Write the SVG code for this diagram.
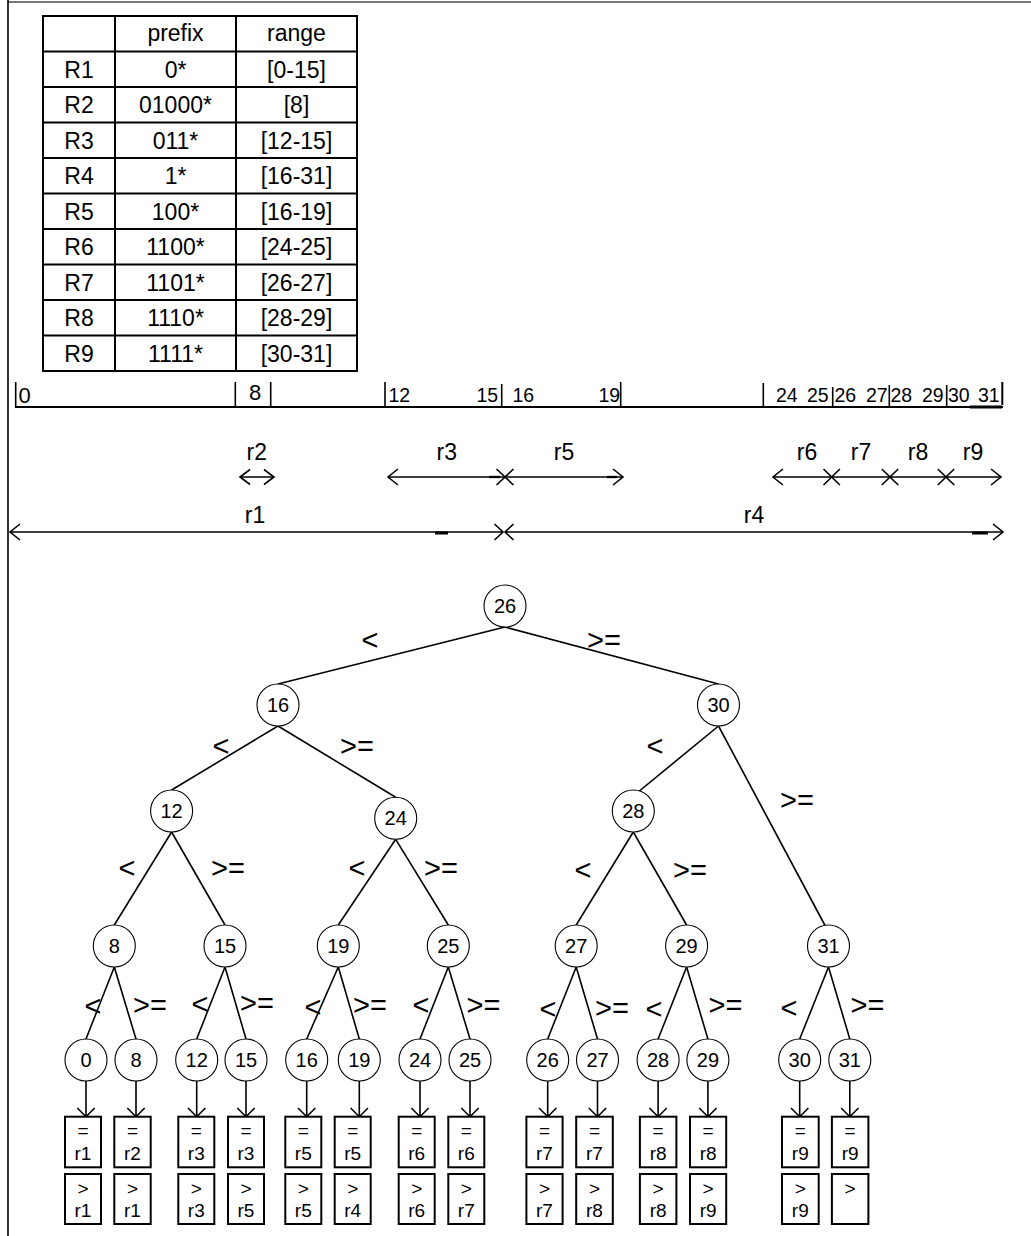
<svg xmlns="http://www.w3.org/2000/svg" width="1031" height="1236" viewBox="0 0 1031 1236">
<style>
.t{font-family:"Liberation Sans",Arial,Helvetica,sans-serif;fill:#000;text-anchor:middle}
.tb{font-size:23px}
.ax{font-size:19.5px;text-anchor:start}
.axb{font-size:22px;text-anchor:start}
.rl{font-size:23px}
.nl{font-size:20px}
.op{font-size:29px}
.bx{font-size:19px}
.ln{stroke:#000;stroke-width:1.6;fill:none}
.th{stroke:#000;stroke-width:2;fill:none}
.hd{stroke:#000;stroke-width:1.6;fill:none;stroke-linejoin:miter}
.nd{stroke:#000;stroke-width:1.1;fill:#fff}
.box{stroke:#000;stroke-width:2;fill:#fff}
</style>
<rect x="0" y="0" width="1031" height="1236" fill="#fff"/>
<g id="frame">
<line x1="8" y1="2" x2="1031" y2="2" stroke="#777" stroke-width="2"/>
<line x1="8" y1="0" x2="8" y2="1236" stroke="#000" stroke-width="1.6"/>
</g>
<g id="table">
<rect x="43" y="16" width="314" height="355" class="th"/>
<line x1="115" y1="16" x2="115" y2="371" class="th"/>
<line x1="236" y1="16" x2="236" y2="371" class="th"/>
<line x1="43" y1="51.5" x2="357" y2="51.5" class="th"/>
<line x1="43" y1="87" x2="357" y2="87" class="th"/>
<line x1="43" y1="122.5" x2="357" y2="122.5" class="th"/>
<line x1="43" y1="158" x2="357" y2="158" class="th"/>
<line x1="43" y1="193.5" x2="357" y2="193.5" class="th"/>
<line x1="43" y1="229" x2="357" y2="229" class="th"/>
<line x1="43" y1="264.5" x2="357" y2="264.5" class="th"/>
<line x1="43" y1="300" x2="357" y2="300" class="th"/>
<line x1="43" y1="335.5" x2="357" y2="335.5" class="th"/>
<text class="t tb" x="175.5" y="41">prefix</text>
<text class="t tb" x="296.5" y="41">range</text>
<text class="t tb" x="79" y="77.7">R1</text><text class="t tb" x="175.5" y="77.7">0*</text><text class="t tb" x="296.5" y="77.7">[0-15]</text>
<text class="t tb" x="79" y="113.2">R2</text><text class="t tb" x="175.5" y="113.2">01000*</text><text class="t tb" x="296.5" y="113.2">[8]</text>
<text class="t tb" x="79" y="148.7">R3</text><text class="t tb" x="175.5" y="148.7">011*</text><text class="t tb" x="296.5" y="148.7">[12-15]</text>
<text class="t tb" x="79" y="184.2">R4</text><text class="t tb" x="175.5" y="184.2">1*</text><text class="t tb" x="296.5" y="184.2">[16-31]</text>
<text class="t tb" x="79" y="219.7">R5</text><text class="t tb" x="175.5" y="219.7">100*</text><text class="t tb" x="296.5" y="219.7">[16-19]</text>
<text class="t tb" x="79" y="255.2">R6</text><text class="t tb" x="175.5" y="255.2">1100*</text><text class="t tb" x="296.5" y="255.2">[24-25]</text>
<text class="t tb" x="79" y="290.7">R7</text><text class="t tb" x="175.5" y="290.7">1101*</text><text class="t tb" x="296.5" y="290.7">[26-27]</text>
<text class="t tb" x="79" y="326.2">R8</text><text class="t tb" x="175.5" y="326.2">1110*</text><text class="t tb" x="296.5" y="326.2">[28-29]</text>
<text class="t tb" x="79" y="361.7">R9</text><text class="t tb" x="175.5" y="361.7">1111*</text><text class="t tb" x="296.5" y="361.7">[30-31]</text>
</g>
<g id="axis">
<line x1="15" y1="407" x2="1003" y2="407" class="th"/>
<line x1="970" y1="407" x2="1002" y2="407" stroke="#000" stroke-width="3"/>
<line x1="15.7" y1="382" x2="15.7" y2="407" class="ln"/>
<line x1="235.3" y1="382" x2="235.3" y2="407" class="ln"/>
<line x1="270.7" y1="382" x2="270.7" y2="407" class="ln"/>
<line x1="385" y1="382" x2="385" y2="407" class="ln"/>
<line x1="501.7" y1="384" x2="501.7" y2="407" class="ln"/>
<line x1="620.7" y1="382" x2="620.7" y2="407" class="ln"/>
<line x1="763.3" y1="383" x2="763.3" y2="407" class="ln"/>
<line x1="832.7" y1="387" x2="832.7" y2="407" class="ln"/>
<line x1="889.3" y1="385" x2="889.3" y2="407" class="ln"/>
<line x1="946.7" y1="385" x2="946.7" y2="407" class="ln"/>
<line x1="1002.3" y1="382" x2="1002.3" y2="405" class="th"/>
<text class="t axb" x="18.5" y="403">0</text>
<text class="t axb" x="249" y="400">8</text>
<text class="t ax" x="388.5" y="402">12</text>
<text class="t ax" x="476.5" y="402">15</text>
<text class="t ax" x="512.5" y="402">16</text>
<text class="t ax" x="598.5" y="402">19</text>
<text class="t ax" x="776" y="402">24</text>
<text class="t ax" x="807" y="402">25</text>
<text class="t ax" x="834.5" y="402">26</text>
<text class="t ax" x="866" y="402">27</text>
<text class="t ax" x="890.5" y="402">28</text>
<text class="t ax" x="922" y="402">29</text>
<text class="t ax" x="948" y="402">30</text>
<text class="t ax" x="978" y="402">31</text>
</g>
<g id="ranges">
<line x1="240" y1="477" x2="274" y2="477" class="ln"/>
<polyline points="250,469.5 240,477 250,484.5" class="hd"/>
<polyline points="264,469.5 274,477 264,484.5" class="hd"/>
<line x1="388" y1="477" x2="505" y2="477" class="ln"/>
<line x1="489" y1="477" x2="500" y2="477" stroke="#000" stroke-width="2.3"/>
<polyline points="398,469 388,477 398,485" class="hd"/>
<polyline points="496.5,469 505,477 496.5,485" class="hd"/>
<line x1="505" y1="477" x2="623" y2="477" class="ln"/>
<line x1="607" y1="477" x2="617" y2="477" stroke="#000" stroke-width="2.3"/>
<polyline points="513.5,469 505,477 513.5,485" class="hd"/>
<polyline points="613,469 623,477 613,485" class="hd"/>
<line x1="773" y1="477" x2="1001" y2="477" class="ln"/>
<polyline points="783,469 773,477 783,485" class="hd"/>
<polyline points="823.5,469 831.7,477 823.5,485" class="hd"/>
<polyline points="839.9,469 831.7,477 839.9,485" class="hd"/>
<polyline points="881.8,469 890,477 881.8,485" class="hd"/>
<polyline points="898.2,469 890,477 898.2,485" class="hd"/>
<polyline points="937.8,469 946,477 937.8,485" class="hd"/>
<polyline points="954.2,469 946,477 954.2,485" class="hd"/>
<polyline points="991,469 1001,477 991,485" class="hd"/>
<line x1="10" y1="532" x2="503" y2="532" class="ln"/>
<line x1="435" y1="533" x2="448" y2="533" stroke="#000" stroke-width="3"/>
<polyline points="20,524 10,532 20,540" class="hd"/>
<polyline points="494.5,524 503,532 494.5,540" class="hd"/>
<line x1="505" y1="532" x2="1003" y2="532" class="ln"/>
<line x1="972" y1="533" x2="988" y2="533" stroke="#000" stroke-width="3"/>
<polyline points="513.5,524 505,532 513.5,540" class="hd"/>
<polyline points="993,524 1003,532 993,540" class="hd"/>
<text class="t rl" x="256.7" y="460">r2</text>
<text class="t rl" x="446.7" y="460">r3</text>
<text class="t rl" x="564" y="460">r5</text>
<text class="t rl" x="807" y="460">r6</text>
<text class="t rl" x="861" y="460">r7</text>
<text class="t rl" x="918" y="460">r8</text>
<text class="t rl" x="973" y="460">r9</text>
<text class="t rl" x="255" y="523">r1</text>
<text class="t rl" x="754" y="523">r4</text>
</g>
<g id="connectors">
<line x1="505" y1="627" x2="278" y2="684" class="ln"/>
<line x1="505" y1="627" x2="718.5" y2="684" class="ln"/>
<line x1="278" y1="726" x2="171.6" y2="790" class="ln"/>
<line x1="278" y1="726" x2="395.7" y2="797.3" class="ln"/>
<line x1="718.5" y1="726" x2="633.3" y2="796" class="ln"/>
<line x1="718.5" y1="726" x2="828.5" y2="932" class="ln"/>
<line x1="171.6" y1="832" x2="114.3" y2="925" class="ln"/>
<line x1="171.6" y1="832" x2="225" y2="925" class="ln"/>
<line x1="395.7" y1="839.3" x2="338.3" y2="925" class="ln"/>
<line x1="395.7" y1="839.3" x2="448.3" y2="925" class="ln"/>
<line x1="633.3" y1="832" x2="576.2" y2="925" class="ln"/>
<line x1="633.3" y1="832" x2="686.6" y2="925" class="ln"/>
<line x1="114.3" y1="967" x2="86" y2="1039" class="ln"/>
<line x1="114.3" y1="967" x2="136" y2="1039" class="ln"/>
<line x1="225" y1="967" x2="196.7" y2="1039" class="ln"/>
<line x1="225" y1="967" x2="246" y2="1039" class="ln"/>
<line x1="338.3" y1="967" x2="306.7" y2="1039" class="ln"/>
<line x1="338.3" y1="967" x2="359.3" y2="1039" class="ln"/>
<line x1="448.3" y1="967" x2="420" y2="1039" class="ln"/>
<line x1="448.3" y1="967" x2="470" y2="1039" class="ln"/>
<line x1="576.2" y1="967" x2="547.7" y2="1039" class="ln"/>
<line x1="576.2" y1="967" x2="597.5" y2="1039" class="ln"/>
<line x1="686.6" y1="967" x2="658.1" y2="1039" class="ln"/>
<line x1="686.6" y1="967" x2="707.9" y2="1039" class="ln"/>
<line x1="828.5" y1="967" x2="799.7" y2="1039" class="ln"/>
<line x1="828.5" y1="967" x2="849.8" y2="1039" class="ln"/>
<g class="ln">
<path d="M86,1081V1116M77.3,1108L86,1116.7L94.7,1108"/>
<path d="M136,1081V1116M127.3,1108L136,1116.7L144.7,1108"/>
<path d="M196.7,1081V1116M188,1108L196.7,1116.7L205.4,1108"/>
<path d="M246,1081V1116M237.3,1108L246,1116.7L254.7,1108"/>
<path d="M306.7,1081V1116M298,1108L306.7,1116.7L315.4,1108"/>
<path d="M359.3,1081V1116M350.6,1108L359.3,1116.7L368,1108"/>
<path d="M420,1081V1116M411.3,1108L420,1116.7L428.7,1108"/>
<path d="M470,1081V1116M461.3,1108L470,1116.7L478.7,1108"/>
<path d="M547.7,1081V1116M539,1108L547.7,1116.7L556.4,1108"/>
<path d="M597.5,1081V1116M588.8,1108L597.5,1116.7L606.2,1108"/>
<path d="M658.1,1081V1116M649.4,1108L658.1,1116.7L666.8,1108"/>
<path d="M707.9,1081V1116M699.2,1108L707.9,1116.7L716.6,1108"/>
<path d="M799.7,1081V1116M791,1108L799.7,1116.7L808.4,1108"/>
<path d="M849.8,1081V1116M841.1,1108L849.8,1116.7L858.5,1108"/>
</g>
<text class="t op" x="370" y="650">&lt;</text><text class="t op" x="604" y="650">&gt;=</text>
<text class="t op" x="221" y="756">&lt;</text><text class="t op" x="357" y="756">&gt;=</text>
<text class="t op" x="655" y="756">&lt;</text><text class="t op" x="797" y="810">&gt;=</text>
<text class="t op" x="127" y="878">&lt;</text><text class="t op" x="228" y="878">&gt;=</text>
<text class="t op" x="357" y="878">&lt;</text><text class="t op" x="441" y="878">&gt;=</text>
<text class="t op" x="583" y="880">&lt;</text><text class="t op" x="690" y="880">&gt;=</text>
<text class="t op" x="93" y="1016">&lt;</text><text class="t op" x="150" y="1015">&gt;=</text>
<text class="t op" x="200" y="1014">&lt;</text><text class="t op" x="257" y="1013">&gt;=</text>
<text class="t op" x="313" y="1017">&lt;</text><text class="t op" x="370" y="1015">&gt;=</text>
<text class="t op" x="421" y="1015">&lt;</text><text class="t op" x="483.5" y="1015">&gt;=</text>
<text class="t op" x="548" y="1019">&lt;</text><text class="t op" x="612" y="1018">&gt;=</text>
<text class="t op" x="654" y="1019">&lt;</text><text class="t op" x="725.5" y="1015">&gt;=</text>
<text class="t op" x="789" y="1018">&lt;</text><text class="t op" x="867.5" y="1015">&gt;=</text>
</g>
<g id="n26"><circle cx="505" cy="606" r="21" class="nd"/><text class="t nl" x="505" y="613">26</text></g>
<g id="n16"><circle cx="278" cy="705" r="21" class="nd"/><text class="t nl" x="278" y="712">16</text></g>
<g id="n30"><circle cx="718.5" cy="705" r="21" class="nd"/><text class="t nl" x="718.5" y="712">30</text></g>
<g id="n12"><circle cx="171.6" cy="811" r="21" class="nd"/><text class="t nl" x="171.6" y="818">12</text></g>
<g id="n24"><circle cx="395.7" cy="818.3" r="21" class="nd"/><text class="t nl" x="395.7" y="825.3">24</text></g>
<g id="n28"><circle cx="633.3" cy="811" r="21" class="nd"/><text class="t nl" x="633.3" y="818">28</text></g>
<g id="n8"><circle cx="114.3" cy="946" r="21" class="nd"/><text class="t nl" x="114.3" y="953">8</text></g>
<g id="n15"><circle cx="225" cy="946" r="21" class="nd"/><text class="t nl" x="225" y="953">15</text></g>
<g id="n19"><circle cx="338.3" cy="946" r="21" class="nd"/><text class="t nl" x="338.3" y="953">19</text></g>
<g id="n25"><circle cx="448.3" cy="946" r="21" class="nd"/><text class="t nl" x="448.3" y="953">25</text></g>
<g id="n27"><circle cx="576.2" cy="946" r="21" class="nd"/><text class="t nl" x="576.2" y="953">27</text></g>
<g id="n29"><circle cx="686.6" cy="946" r="21" class="nd"/><text class="t nl" x="686.6" y="953">29</text></g>
<g id="n31"><circle cx="828.5" cy="946" r="21" class="nd"/><text class="t nl" x="828.5" y="953">31</text></g>
<g id="l0"><circle cx="86" cy="1060" r="21" class="nd"/><text class="t nl" x="86" y="1067">0</text></g>
<g id="l8"><circle cx="136" cy="1060" r="21" class="nd"/><text class="t nl" x="136" y="1067">8</text></g>
<g id="l12"><circle cx="196.7" cy="1060" r="21" class="nd"/><text class="t nl" x="196.7" y="1067">12</text></g>
<g id="l15"><circle cx="246" cy="1060" r="21" class="nd"/><text class="t nl" x="246" y="1067">15</text></g>
<g id="l16"><circle cx="306.7" cy="1060" r="21" class="nd"/><text class="t nl" x="306.7" y="1067">16</text></g>
<g id="l19"><circle cx="359.3" cy="1060" r="21" class="nd"/><text class="t nl" x="359.3" y="1067">19</text></g>
<g id="l24"><circle cx="420" cy="1060" r="21" class="nd"/><text class="t nl" x="420" y="1067">24</text></g>
<g id="l25"><circle cx="470" cy="1060" r="21" class="nd"/><text class="t nl" x="470" y="1067">25</text></g>
<g id="l26"><circle cx="547.7" cy="1060" r="21" class="nd"/><text class="t nl" x="547.7" y="1067">26</text></g>
<g id="l27"><circle cx="597.5" cy="1060" r="21" class="nd"/><text class="t nl" x="597.5" y="1067">27</text></g>
<g id="l28"><circle cx="658.1" cy="1060" r="21" class="nd"/><text class="t nl" x="658.1" y="1067">28</text></g>
<g id="l29"><circle cx="707.9" cy="1060" r="21" class="nd"/><text class="t nl" x="707.9" y="1067">29</text></g>
<g id="l30"><circle cx="799.7" cy="1060" r="21" class="nd"/><text class="t nl" x="799.7" y="1067">30</text></g>
<g id="l31"><circle cx="849.8" cy="1060" r="21" class="nd"/><text class="t nl" x="849.8" y="1067">31</text></g>
<g id="b1"><rect x="65" y="1116.7" width="36" height="50.6" class="box"/><text class="t bx" x="83" y="1137">=</text><text class="t bx" x="83" y="1159.5">r1</text><rect x="65" y="1174" width="36" height="50" class="box"/><text class="t bx" x="83" y="1195">&gt;</text><text class="t bx" x="83" y="1216.5">r1</text></g>
<g id="b2"><rect x="114.3" y="1116.7" width="36.4" height="50.6" class="box"/><text class="t bx" x="132.5" y="1137">=</text><text class="t bx" x="132.5" y="1159.5">r2</text><rect x="114.3" y="1174" width="36.4" height="50" class="box"/><text class="t bx" x="132.5" y="1195">&gt;</text><text class="t bx" x="132.5" y="1216.5">r1</text></g>
<g id="b3"><rect x="178.3" y="1116.7" width="36" height="50.6" class="box"/><text class="t bx" x="196.3" y="1137">=</text><text class="t bx" x="196.3" y="1159.5">r3</text><rect x="178.3" y="1174" width="36" height="50" class="box"/><text class="t bx" x="196.3" y="1195">&gt;</text><text class="t bx" x="196.3" y="1216.5">r3</text></g>
<g id="b4"><rect x="228" y="1116.7" width="36" height="50.6" class="box"/><text class="t bx" x="246" y="1137">=</text><text class="t bx" x="246" y="1159.5">r3</text><rect x="228" y="1174" width="36" height="50" class="box"/><text class="t bx" x="246" y="1195">&gt;</text><text class="t bx" x="246" y="1216.5">r5</text></g>
<g id="b5"><rect x="285.3" y="1116.7" width="36" height="50.6" class="box"/><text class="t bx" x="303.3" y="1137">=</text><text class="t bx" x="303.3" y="1159.5">r5</text><rect x="285.3" y="1174" width="36" height="50" class="box"/><text class="t bx" x="303.3" y="1195">&gt;</text><text class="t bx" x="303.3" y="1216.5">r5</text></g>
<g id="b6"><rect x="334.7" y="1116.7" width="36" height="50.6" class="box"/><text class="t bx" x="352.7" y="1137">=</text><text class="t bx" x="352.7" y="1159.5">r5</text><rect x="334.7" y="1174" width="36" height="50" class="box"/><text class="t bx" x="352.7" y="1195">&gt;</text><text class="t bx" x="352.7" y="1216.5">r4</text></g>
<g id="b7"><rect x="398.7" y="1116.7" width="36" height="50.6" class="box"/><text class="t bx" x="416.7" y="1137">=</text><text class="t bx" x="416.7" y="1159.5">r6</text><rect x="398.7" y="1174" width="36" height="50" class="box"/><text class="t bx" x="416.7" y="1195">&gt;</text><text class="t bx" x="416.7" y="1216.5">r6</text></g>
<g id="b8"><rect x="448.3" y="1116.7" width="36" height="50.6" class="box"/><text class="t bx" x="466.3" y="1137">=</text><text class="t bx" x="466.3" y="1159.5">r6</text><rect x="448.3" y="1174" width="36" height="50" class="box"/><text class="t bx" x="466.3" y="1195">&gt;</text><text class="t bx" x="466.3" y="1216.5">r7</text></g>
<g id="b9"><rect x="526.4" y="1116.7" width="36.2" height="50.6" class="box"/><text class="t bx" x="544.5" y="1137">=</text><text class="t bx" x="544.5" y="1159.5">r7</text><rect x="526.4" y="1174" width="36.2" height="50" class="box"/><text class="t bx" x="544.5" y="1195">&gt;</text><text class="t bx" x="544.5" y="1216.5">r7</text></g>
<g id="b10"><rect x="576.2" y="1116.7" width="36.6" height="50.6" class="box"/><text class="t bx" x="594.5" y="1137">=</text><text class="t bx" x="594.5" y="1159.5">r7</text><rect x="576.2" y="1174" width="36.6" height="50" class="box"/><text class="t bx" x="594.5" y="1195">&gt;</text><text class="t bx" x="594.5" y="1216.5">r8</text></g>
<g id="b11"><rect x="639.9" y="1116.7" width="36.5" height="50.6" class="box"/><text class="t bx" x="658.1" y="1137">=</text><text class="t bx" x="658.1" y="1159.5">r8</text><rect x="639.9" y="1174" width="36.5" height="50" class="box"/><text class="t bx" x="658.1" y="1195">&gt;</text><text class="t bx" x="658.1" y="1216.5">r8</text></g>
<g id="b12"><rect x="690" y="1116.7" width="36.2" height="50.6" class="box"/><text class="t bx" x="708.1" y="1137">=</text><text class="t bx" x="708.1" y="1159.5">r8</text><rect x="690" y="1174" width="36.2" height="50" class="box"/><text class="t bx" x="708.1" y="1195">&gt;</text><text class="t bx" x="708.1" y="1216.5">r9</text></g>
<g id="b13"><rect x="782" y="1116.7" width="36.7" height="50.6" class="box"/><text class="t bx" x="800.3" y="1137">=</text><text class="t bx" x="800.3" y="1159.5">r9</text><rect x="782" y="1174" width="36.7" height="50" class="box"/><text class="t bx" x="800.3" y="1195">&gt;</text><text class="t bx" x="800.3" y="1216.5">r9</text></g>
<g id="b14"><rect x="831.9" y="1116.7" width="36.5" height="50.6" class="box"/><text class="t bx" x="850.1" y="1137">=</text><text class="t bx" x="850.1" y="1159.5">r9</text><rect x="831.9" y="1174" width="36.5" height="50" class="box"/><text class="t bx" x="850.1" y="1195">&gt;</text></g>
</svg>
